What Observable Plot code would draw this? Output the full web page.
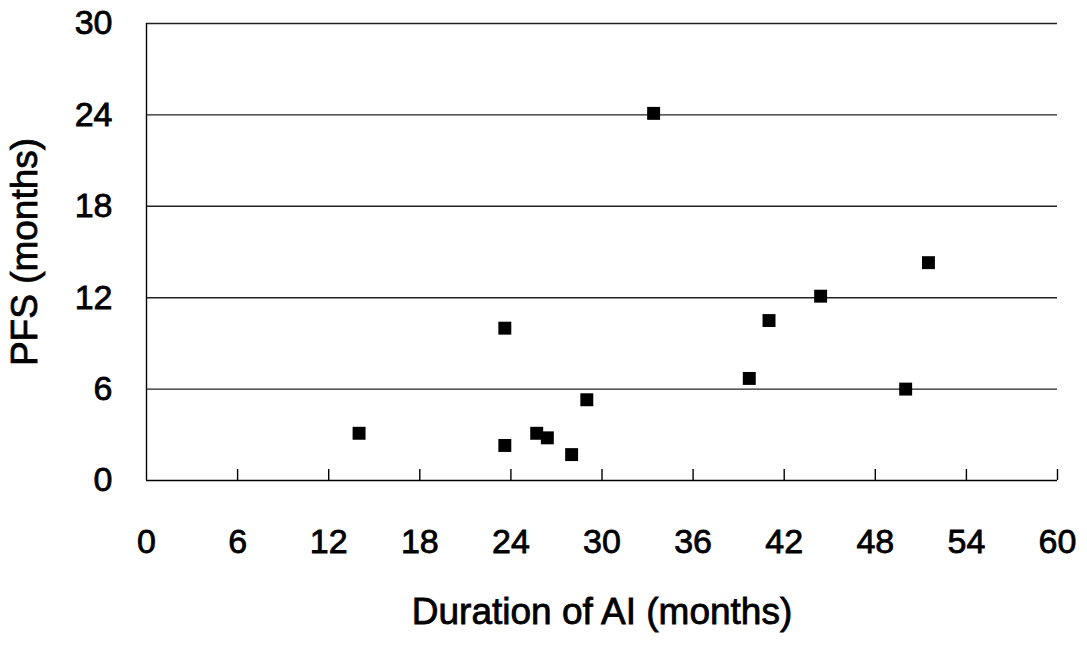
<!DOCTYPE html>
<html>
<head>
<meta charset="utf-8">
<script src="https://cdn.jsdelivr.net/npm/d3@7"></script>
<script src="https://cdn.jsdelivr.net/npm/@observablehq/plot@0.6"></script>
<style>
  html, body { margin: 0; padding: 0; background: #fff; }
  #chart svg { display: block; }
  #chart svg text { stroke: #000; stroke-width: 0.8px; }
</style>
</head>
<body>
<div id="chart"></div>
<script>
// Data
const durationAI = [14.0, 23.6, 23.6, 25.7, 26.4, 28.0, 29.0, 33.4, 39.7, 41.0, 44.4, 50.0, 51.5];
const pfs        = [3.1, 10.0, 2.3, 3.1, 2.8, 1.7, 5.3, 24.1, 6.7, 10.5, 12.1, 6.0, 14.3];
const xTicks = [0, 6, 12, 18, 24, 30, 36, 42, 48, 54, 60];
const yTicks = [0, 6, 12, 18, 24, 30];
const xTitle = "Duration of AI (months)";
const yTitle = "PFS (months)";

const points = durationAI.map((d, i) => ({x: d, y: pfs[i]}));
const font = "'Liberation Sans', Arial, Helvetica, sans-serif";

const chart = Plot.plot({
  width: 1087,
  height: 647,
  marginLeft: 146,
  marginRight: 30,
  marginTop: 23,
  marginBottom: 167,
  style: {fontFamily: font, background: "#fff", color: "#000"},
  x: {domain: [0, 60], axis: null},
  y: {domain: [0, 30], axis: null},
  marks: [
    // horizontal gridlines
    Plot.ruleY(yTicks.filter(d => d > 0), {stroke: "#222", strokeWidth: 1.4}),
    // inward x ticks
    Plot.ruleX(xTicks.filter(d => d > 0), {stroke: "#000", strokeWidth: 1.4, insetTop: 446}),
    // axis lines
    Plot.ruleY([0], {stroke: "#000", strokeWidth: 1.4}),
    Plot.ruleX([0], {stroke: "#000", strokeWidth: 1.4}),
    // tick labels
    Plot.text(xTicks, {x: d => d, text: d => String(d), frameAnchor: "bottom", textAnchor: "middle", dy: 72, fontSize: 34, fill: "#000"}),
    Plot.text(yTicks, {y: d => d, text: d => String(d), frameAnchor: "left", textAnchor: "end", dx: -34, fontSize: 34, fill: "#000"}),
    // axis titles
    Plot.text([xTitle], {text: d => d, frameAnchor: "bottom", textAnchor: "middle", dy: 143, fontSize: 37, fill: "#000"}),
    Plot.text([yTitle], {text: d => d, frameAnchor: "left", textAnchor: "middle", dx: -121, rotate: -90, fontSize: 37, fill: "#000"}),
    // points
    Plot.dot(points, {x: "x", y: "y", symbol: "square", r: 7.3, fill: "#000", stroke: null})
  ]
});
document.getElementById("chart").appendChild(chart);
</script>
</body>
</html>
